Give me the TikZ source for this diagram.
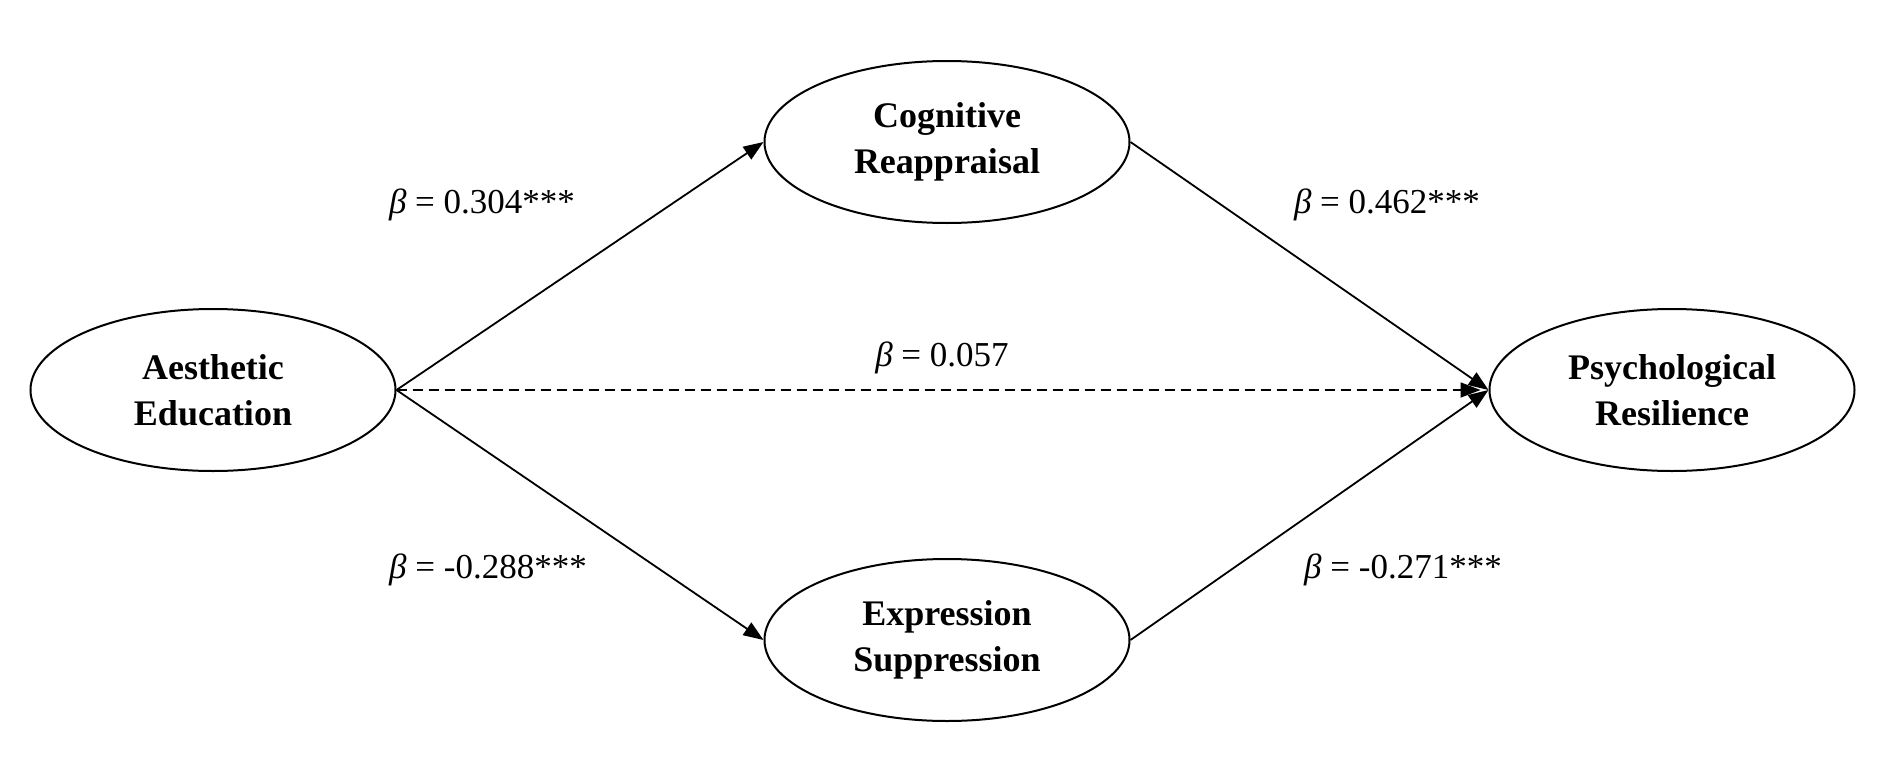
\documentclass[tikz,border=0pt]{standalone}
\usepackage{fontspec}
\setmainfont{Liberation Serif}
\usetikzlibrary{arrows.meta,shapes.geometric}
\begin{document}
\begin{tikzpicture}[x=1pt,y=-1pt,
 var/.style={draw,line width=2pt,ellipse,minimum width=365pt,minimum height=162pt,inner sep=0pt,align=center,font=\fontsize{36}{46}\selectfont\bfseries},
 path/.style={line width=1.8pt,-{Triangle[length=20pt,width=15pt]}},
 lab/.style={font=\fontsize{35}{40}\selectfont}]
\useasboundingbox (0,0) rectangle (1904,779);
\node[var] (ae) at (213,390) {Aesthetic\\Education};
\node[var] (cr) at (947,142) {Cognitive\\Reappraisal};
\node[var] (es) at (947,640) {Expression\\Suppression};
\node[var] (pr) at (1672,390) {Psychological\\Resilience};
\draw[path] (ae.east) -- (cr.west);
\draw[path] (ae.east) -- (es.west);
\draw[path] (cr.east) -- (pr.west);
\draw[path] (es.east) -- (pr.west);
\draw[path,dashed,dash pattern=on 10pt off 6pt] (ae.east) -- ([xshift=-8pt]pr.west);
\node[lab] (l1) at (482,205) {\textit{β} = 0.304***};
\node[lab] (l2) at (1387,205) {\textit{β} = 0.462***};
\node[lab] (l3) at (942,358) {\textit{β} = 0.057};
\node[lab] (l4) at (488,570) {\textit{β} = -0.288***};
\node[lab] (l5) at (1403,570) {\textit{β} = -0.271***};
\end{tikzpicture}
\end{document}
